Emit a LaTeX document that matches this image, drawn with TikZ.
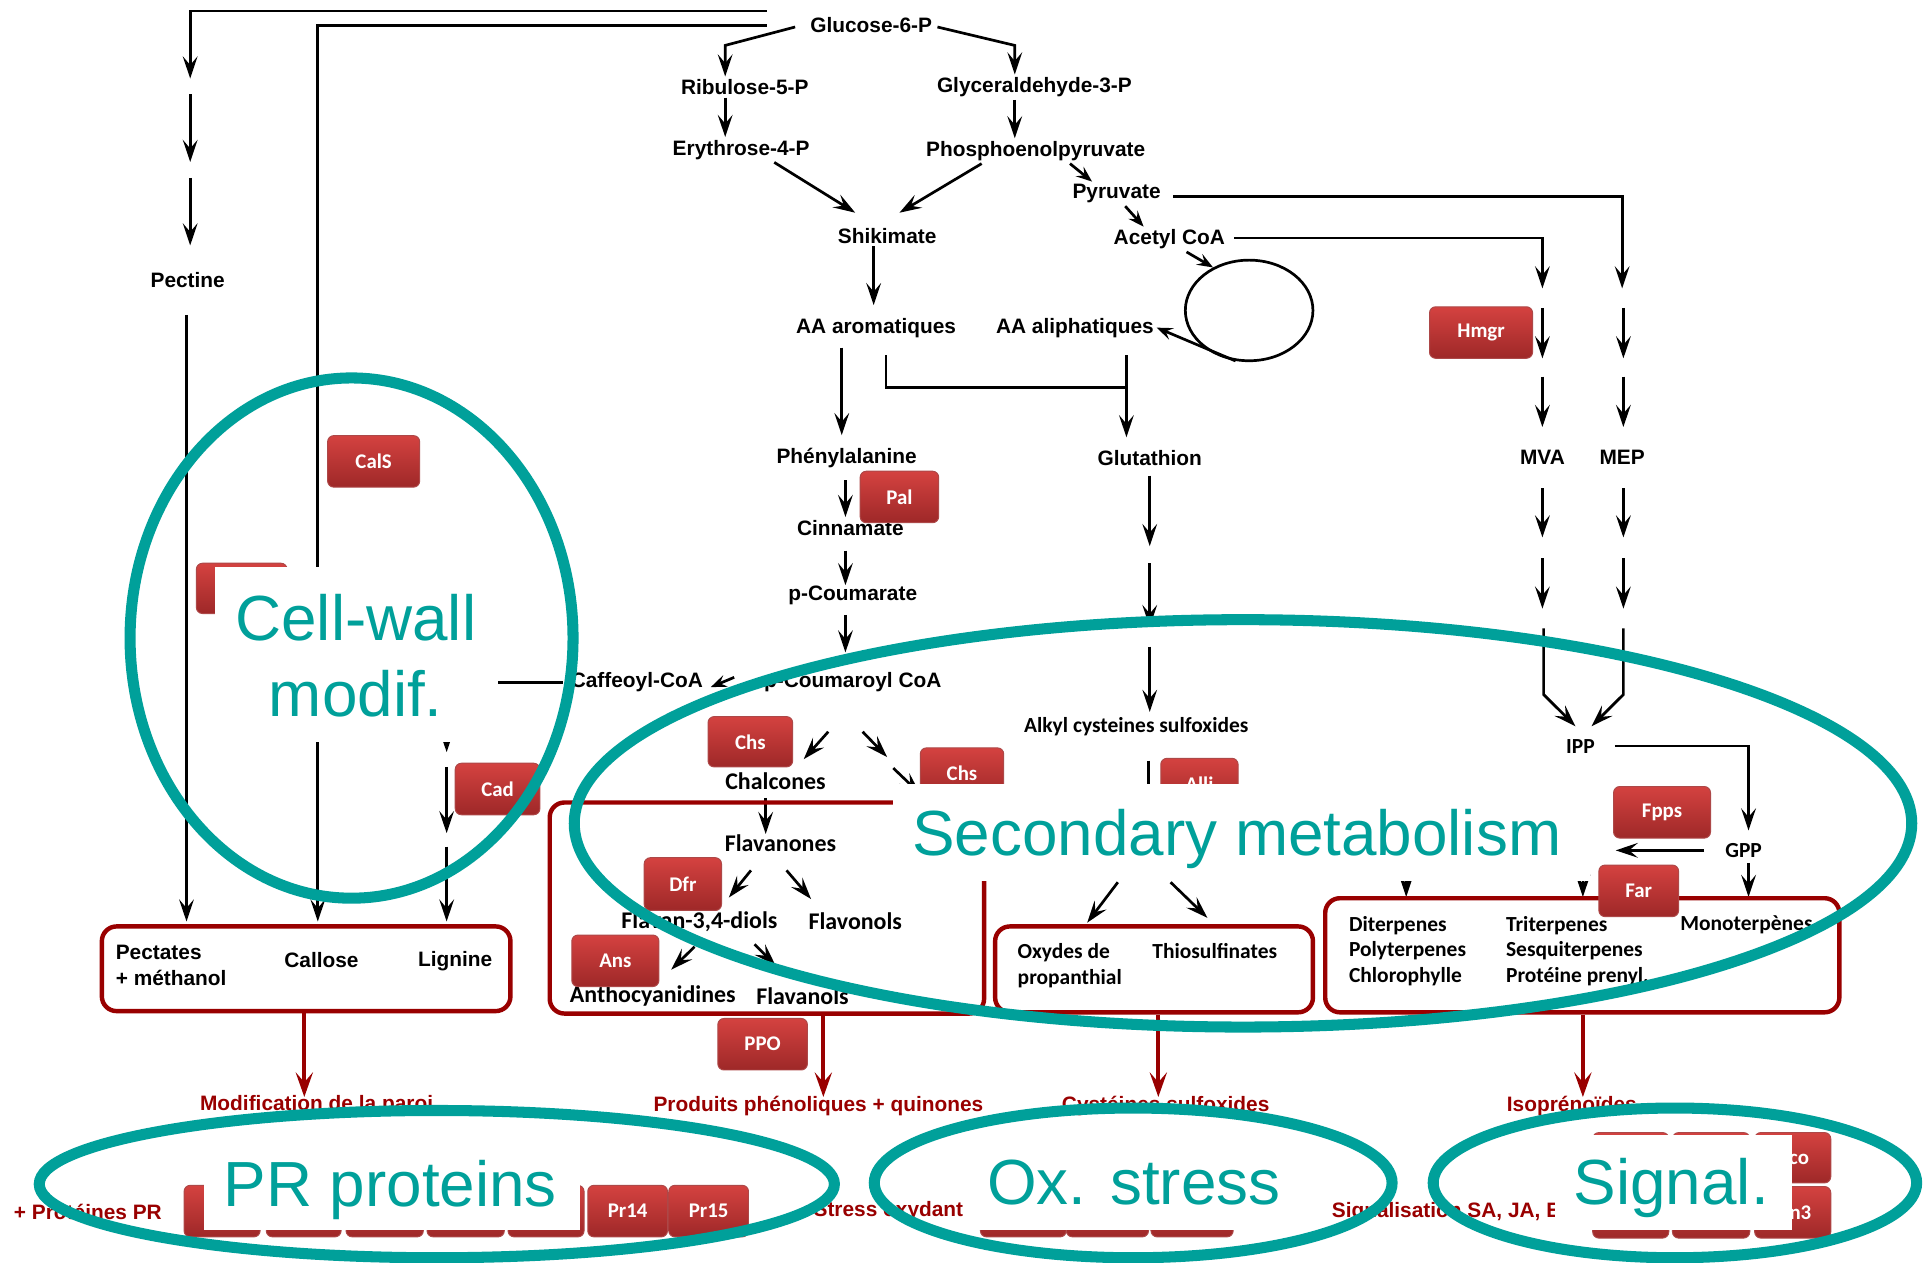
\documentclass[tikz,border=0pt]{standalone}
\usepackage{fontspec}
\setmainfont{Liberation Sans}
\newfontfamily\calib{Carlito}
\usetikzlibrary{arrows.meta,shapes.geometric}
\definecolor{teal1}{RGB}{0,160,154}
\definecolor{dred}{RGB}{153,0,0}
\definecolor{enzTop}{RGB}{212,66,64}
\definecolor{enzBot}{RGB}{158,40,40}
\tikzset{
  lab/.style={font=\bfseries\fontsize{8.5}{10.5}\selectfont, inner sep=1pt},
  clab/.style={font=\calib\bfseries\fontsize{8.75}{10.5}\selectfont, inner sep=1pt},
  flab/.style={font=\calib\bfseries\fontsize{9.75}{11}\selectfont, inner sep=1pt},
  rlab/.style={font=\bfseries\fontsize{8.5}{10}\selectfont, text=dred, inner sep=1pt},
  enz/.style 2 args={rounded corners=2.5pt, top color=enzTop, bottom color=enzBot,
     draw=enzBot!85!white, line width=0.4pt, text=white,
     font=\calib\bfseries\fontsize{8.5}{10}\selectfont,
     minimum width=#1*0.5pt, minimum height=#2*0.5pt, inner sep=0pt},
  arr/.style={-{Stealth[length=9pt,width=6pt,inset=3.5pt]}, line width=1.1pt},
  sarr/.style={-{Stealth[length=6.5pt,width=5pt,inset=2.5pt]}, line width=1.1pt},
  ln/.style={line width=1.1pt},
  rbox/.style={draw=dred, line width=1.8pt, rounded corners=6pt, inner sep=0pt},
  rarr/.style={draw=dred, line width=1.6pt, -{Stealth[length=10pt,width=7pt,inset=4pt]}},
  tealtxt/.style={text=teal1, font=\fontsize{26}{31}\selectfont, inner sep=0pt, anchor=base},
  tealell/.style={draw=teal1, line width=4.5pt},
}
\begin{document}
\begin{tikzpicture}[x=0.5pt,y=-0.5pt]
\fill[white] (0,0) rectangle (1568,1029);
\useasboundingbox (0,0) rectangle (1568,1029);

% ---------- black labels
\node[lab] (g6p) at (710,20) {Glucose-6-P};
\node[lab] (r5p) at (607,71) {Ribulose-5-P};
\node[lab] (g3p) at (843,71) {Glyceraldehyde-3-P};
\node[lab] (e4p) at (604,122) {Erythrose-4-P};
\node[lab] (pep) at (844,123) {Phosphoenolpyruvate};
\node[lab] (shik) at (723,192) {Shikimate};
\node[lab] (pyr) at (910,158) {Pyruvate};
\node[lab] (acoa) at (953,195) {Acetyl CoA};
\node[lab] (aaar) at (714,267) {AA aromatiques};
\node[lab] (aaal) at (876,267) {AA aliphatiques};
\node[draw, ellipse, line width=1.1pt, minimum width=52pt, minimum height=41pt, inner sep=0pt] (krebs) at (1018,253) {};
\node[lab] (pectine) at (153,228) {Pectine};
\node[lab] (phe) at (690,373) {Phénylalanine};
\node[lab] (glut) at (937,373) {Glutathion};
\node[lab] (cinn) at (693,430) {Cinnamate};
\node[lab] (pcoum) at (695,485) {p-Coumarate};
\node[lab] (pcoa) at (695,556) {p-Coumaroyl CoA};
\node[lab] (caff) at (519,556) {Caffeoyl-CoA};
\node[lab] (mva) at (1257,373) {MVA};
\node[lab] (mep) at (1322,373) {MEP};
\node[clab] (alkyl) at (926,592) {Alkyl cysteines sulfoxides};
\node[flab] (chalc) at (632,637) {Chalcones};
\node[flab] (flavanones) at (636,687) {Flavanones};
\node[flab] (flavan34) at (570,751) {Flavan-3,4-diols};
\node[flab] (flavonols) at (697,751) {Flavonols};
\node[flab] (antho) at (532,812) {Anthocyanidines};
\node[flab] (flavanols) at (654,812) {Flavanols};
\node[clab] (ipp) at (1288,608) {IPP};
\node[clab] (gpp) at (1421,693) {GPP};
\node[clab] (fpp) at (1283,693) {FPP};

% ---------- top-left lines
\draw[arr] ([xshift=-16.5pt,yshift=5.5pt]g6p.west) -| (155,64);
\draw[arr] (155,77) -- (155,132);
\draw[arr] (155,145) -- (155,200);
\draw[arr] ([xshift=-0.5pt,yshift=-10pt]pectine.south) -- (152,751);
\draw[arr] ([xshift=-16.5pt,yshift=-0.5pt]g6p.west) -| (259,751);

% ---------- glycolysis / shikimate
\draw[arr] ([xshift=-5pt,yshift=-1pt]g6p.west) -- (591,37) -- ([xshift=-8pt]r5p.north);
\draw[arr] ([xshift=1pt,yshift=-1pt]g6p.east) -- (827,37) -- ([xshift=-8pt]g3p.north);
\draw[arr] ([xshift=-8pt]r5p.south) -- ([xshift=-6.5pt]e4p.north);
\draw[arr] ([xshift=-8pt]g3p.south) -- ([xshift=-8.5pt]pep.north);
\draw[arr] ([xshift=13.5pt]e4p.south) -- ([xshift=-13pt,yshift=5pt]shik.north);
\draw[arr] ([xshift=-22pt]pep.south) -- ([xshift=5pt,yshift=5pt]shik.north);
\draw[sarr] ([xshift=14pt]pep.south) -- ([xshift=-10pt]pyr.north);
\draw[sarr] ([xshift=3.5pt]pyr.south) -- ([xshift=-10.5pt]acoa.north);
\draw[sarr] ([xshift=7pt]acoa.south) -- (krebs.130);
\draw[sarr] (krebs.255) -- (aaal.east);
\draw[arr] ([xshift=-5.5pt]shik.south) -- ([xshift=-1pt,yshift=4pt]aaar.north);
\draw[arr] ([xshift=-14pt,yshift=-3pt]aaar.south) -- ([xshift=-2pt,yshift=4pt]phe.north);
\draw[ln] ([xshift=4pt,yshift=-6pt]aaar.south) |- (918,316);
\draw[arr] ([xshift=21pt,yshift=-6pt]aaal.south) -- ([xshift=-9.5pt,yshift=4pt]glut.north);

% ---------- phenylpropanoids
\draw[arr] ([xshift=-0.5pt,yshift=-4pt]phe.south) -- ([xshift=-2pt]cinn.north);
\draw[arr] ([xshift=-2pt,yshift=-5pt]cinn.south) -- ([xshift=-3pt,yshift=-1pt]pcoum.north);
\draw[arr] ([xshift=-3pt,yshift=-3pt]pcoum.south) -- ([xshift=-3pt,yshift=7pt]pcoa.north);
\draw[sarr] ([xshift=-11pt,yshift=2pt]pcoa.west) -- ([xshift=2pt,yshift=-2pt]caff.east);
\draw[arr] ([xshift=-2pt]caff.west) -| (364,613);
\draw[arr] (364,625) -- (364,679);
\draw[arr] (364,690) -- (364,751);

% ---------- flavonoids
\draw[arr] ([xshift=-10pt,yshift=-15pt]pcoa.south) -- ([xshift=11.5pt,yshift=4.5pt]chalc.north);
\draw[arr] ([xshift=4pt,yshift=-15pt]pcoa.south) -- (723,617);
\draw[arr] (728,626) -- (750,647);
\draw[arr] ([xshift=-4pt,yshift=-2pt]chalc.south) -- ([xshift=-6pt,yshift=-1pt]flavanones.north);
\draw[arr] ([xshift=-12pt,yshift=-6.5pt]flavanones.south) -- ([xshift=12pt,yshift=4.5pt]flavan34.north);
\draw[arr] ([xshift=2.5pt,yshift=-6.5pt]flavanones.south) -- ([xshift=-18pt,yshift=4.5pt]flavonols.north);
\draw[arr] ([xshift=-2pt,yshift=-5pt]flavan34.south) -- ([xshift=7.5pt,yshift=5.5pt]antho.north);
\draw[arr] ([xshift=22.5pt,yshift=-4pt]flavan34.south) -- ([xshift=-11pt,yshift=8pt]flavanols.north);

% ---------- glutathion
\draw[arr] ([yshift=-3pt]glut.south) -- (937,445);
\draw[arr] (937,459) -- (937,511);
\draw[arr] (937,527) -- ([xshift=5.5pt,yshift=1pt]alkyl.north);
\draw[ln] ([xshift=5pt,yshift=-9pt]alkyl.south) -- (936,700);
\draw[arr] (911,719) -- (886,752);
\draw[arr] (954,719) -- (984,748);

% ---------- MVA / MEP
\draw[arr] ([xshift=2.5pt,yshift=0.5pt]acoa.east) -| (1257,235);
\draw[arr] ([xshift=4pt,yshift=-1pt]pyr.east) -| (1322,235);
\foreach \xx in {1257,1323}{
  \draw[arr] (\xx,251) -- (\xx,292);
  \draw[arr] (\xx,307) -- (\xx,348);
  \draw[arr] (\xx,398) -- (\xx,438);
  \draw[arr] (\xx,455) -- (\xx,496);
}
\draw[arr] (1258,512) -- (1258,566) -- ([xshift=-2pt,yshift=4pt]ipp.north);
\draw[arr] (1323,512) -- (1323,566) -- ([xshift=4.5pt,yshift=4pt]ipp.north);
\draw[arr] ([xshift=7pt]ipp.east) -| ([xshift=2pt,yshift=4pt]gpp.north);
\draw[arr] ([xshift=-7.5pt]gpp.west) -- ([xshift=9pt]fpp.east);
\draw[arr] ([xshift=2pt,yshift=-1pt]gpp.south) -- (1425,731);
\draw[arr] (fpp.west) -| (1146,731);
\draw[arr] (1290,705) -- (1290,731);

% ---------- red boxes
\node[rbox, minimum width=166.5pt, minimum height=34.5pt] (cwbox) at (249.5,789.5) {};
\node[rbox, minimum width=177pt, minimum height=86pt] (flavbox) at (625,740) {};
\node[rbox, minimum width=129.5pt, minimum height=35pt] (oxbox) at (940.5,790) {};
\node[rbox, minimum width=209.5pt, minimum height=46.5pt] (terpbox) at (1289.5,778.5) {};

\node[lab, anchor=west, align=left] (pectates) at (92,787) {Pectates\\+ méthanol};
\node[lab] (callose) at (262,782) {Callose};
\node[lab] (lignine) at (371,783) {Lignine};
\node[clab, anchor=west, align=left] (oxydes) at (827,787) {Oxydes de\\propanthial};
\node[clab] (thio) at (990,775) {Thiosulfinates};
\node[clab, anchor=west, align=left] (diterp) at (1097,775) {Diterpenes\\Polyterpenes\\Chlorophylle};
\node[clab, anchor=west, align=left] (triterp) at (1225,775) {Triterpenes\\Sesquiterpenes\\Protéine prenyl.};
\node[clab, anchor=west] (mono) at (1367,754) {Monoterpènes};

% ---------- red arrows and labels
\node[rlab] (modif) at (258,901) {Modification de la paroi};
\node[rlab] (phenol) at (667,901) {Produits phénoliques + quinones};
\node[rlab] (cyst) at (950,901) {Cystéines sulfoxides};
\node[rlab] (isop) at (1281,901) {Isoprénoïdes};
\node[rlab, anchor=west] (protpr) at (9,988) {+ Protéines PR};
\node[rlab] (stress) at (724,987) {Stress oxydant};
\node[rlab, anchor=west] (signsa) at (1083,988) {Signalisation SA, JA, ET};
\draw[rarr] ([xshift=-0.75pt]cwbox.south) -- (248,894);
\draw[rarr] ([xshift=23pt]flavbox.south) -- (671,894);
\draw[rarr] ([xshift=1.75pt]oxbox.south) -- (944,894);
\draw[rarr] ([xshift=0.25pt]terpbox.south) -- (1290,894);

% ---------- enzymes
\node[enz={75}{42}] (cals) at (304.5,376) {CalS};
\node[enz={74}{41}] (enzhid) at (197,479.5) {};
\node[enz={69}{42}] (cad) at (405.5,643) {Cad};
\node[enz={64}{42}] (pal) at (733,405) {Pal};
\node[enz={84}{42}] (hmgr) at (1207,271) {Hmgr};
\node[enz={69}{41}] (chs1) at (611.5,604.5) {Chs};
\node[enz={68}{41}] (chs2) at (784,630) {Chs};
\node[enz={63}{42}] (alli) at (977.5,639) {Alli};
\node[enz={79}{42}] (fpps) at (1354.5,662) {Fpps};
\node[enz={65}{42}] (far) at (1335.5,726) {Far};
\node[enz={63}{43}] (dfr) at (556.5,720.5) {Dfr};
\node[enz={71}{42}] (ans) at (501.5,783) {Ans};
\node[enz={73}{42}] (ppo) at (621.5,851) {PPO};
\node[enz={62}{42}] (pra) at (181,987) {};
\node[enz={61}{42}] (prb) at (247.5,987) {};
\node[enz={63}{42}] (prc) at (313.5,987) {};
\node[enz={63}{42}] (prd) at (379.5,987) {};
\node[enz={62}{42}] (pre) at (445,987) {};
\node[enz={65}{42}] (pr14) at (511.5,987) {Pr14};
\node[enz={65}{42}] (pr15) at (577.5,987) {Pr15};
\node[enz={70}{42}] (oxa) at (834,987) {};
\node[enz={67}{42}] (oxb) at (902.5,987) {};
\node[enz={67}{42}] (oxc) at (971.5,987) {};
\node[enz={62}{41}] (siga) at (1329,943.5) {};
\node[enz={63}{41}] (sigb) at (1394.5,943.5) {};
\node[enz={62}{41}] (aco) at (1461,943.5) {Aco};
\node[enz={62}{42}] (sigd) at (1329,988) {};
\node[enz={63}{42}] (sige) at (1394.5,988) {};
\node[enz={62}{42}] (ein3) at (1461,988) {Ein3};

% ---------- white masks behind overlay texts
\fill[white] (175,462) rectangle (406,605);
\fill[white] (728,639) rectangle (1296,718);
\fill[white] (166,935) rectangle (473,1002);
\fill[white] (795,928) rectangle (1050,1002);
\fill[white] (1267,925) rectangle (1460,1002);

% ---------- teal overlay texts
\node[tealtxt] (cw1) at (290,522) {Cell-wall};
\node[tealtxt] (cw2) at (290,584) {modif.};
\node[tealtxt] (secm) at (1008,697) {Secondary metabolism};
\node[tealtxt] (prp) at (318,983) {PR proteins};
\node[tealtxt] (oxs) at (924,982) {Ox. stress};
\node[tealtxt] (sigl) at (1362,982) {Signal.};

% ---------- teal ellipses
\draw[tealell] (286.5,520) ellipse [x radius=180.5, y radius=212];
\draw[tealell] (1013,671) ellipse [x radius=545, y radius=166];
\draw[tealell] (356,965) ellipse [x radius=324, y radius=60];
\draw[tealell] (923.5,964) ellipse [x radius=211, y radius=61];
\draw[tealell] (1365,964) ellipse [x radius=197, y radius=61];
\end{tikzpicture}
\end{document}
